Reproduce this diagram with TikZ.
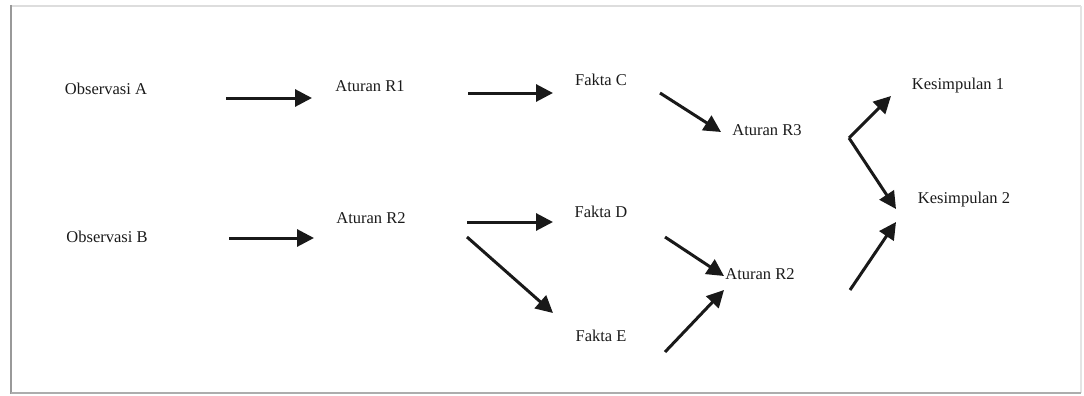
\documentclass[tikz,border=0pt]{standalone}
\usepackage{fontspec}
\setmainfont{Liberation Serif}
\usetikzlibrary{arrows.meta}
\definecolor{textgrey}{HTML}{1A1A1A}
\definecolor{frameside}{HTML}{999999}
\definecolor{frametop}{HTML}{DDDDDD}
\begin{document}
\begin{tikzpicture}[x=1pt,y=-1pt,
  lbl/.style={inner sep=0pt, text=textgrey, font=\fontsize{16.5}{20}\selectfont},
  arr/.style={line width=3pt, draw=black!90, -{Triangle[length=17pt,width=17pt]}}]
\useasboundingbox (0,0) rectangle (1084,396);
% frame
\draw[frametop, line width=2pt] (11,6) -- (1081,6);
\draw[frametop!80, line width=2pt] (1081,6) -- (1081,393);
\draw[frameside, line width=2.2pt] (11,5) -- (11,394);
\draw[frameside!80, line width=2pt] (11,393) -- (1081,393);
% labels
\node[lbl] (obsA) at (106,89)  {Observasi A};
\node[lbl] (r1)   at (370,86)  {Aturan R1};
\node[lbl] (fC)   at (601,80)  {Fakta C};
\node[lbl] (r3)   at (767,130) {Aturan R3};
\node[lbl] (k1)   at (958,86)  {Kesimpulan 1};
\node[lbl] (k2)   at (964,200) {Kesimpulan 2};
\node[lbl] (obsB) at (107,237) {Observasi B};
\node[lbl] (r2)   at (371,218) {Aturan R2};
\node[lbl] (fD)   at (601,212) {Fakta D};
\node[lbl] (r2b)  at (760,274) {Aturan R2};
\node[lbl] (fE)   at (601,336) {Fakta E};
% fork point after Aturan R3
\coordinate (fork) at ([shift={(82,8)}]r3.center);
% connectors
\draw[arr] ([shift={(120,9)}]obsA.center) -- ([shift={(-58,12)}]r1.center);
\draw[arr] ([shift={(98,7)}]r1.center) -- ([shift={(-48,13)}]fC.center);
\draw[arr] ([shift={(59,13)}]fC.center) -- ([shift={(-46,2)}]r3.center);
\draw[arr] (fork) -- ([shift={(-67,10)}]k1.center);
\draw[arr] (fork) -- ([shift={(-68,9)}]k2.center);
\draw[arr] ([shift={(90,16)}]r2b.center) -- ([shift={(-68,22)}]k2.center);
\draw[arr] ([shift={(122,1)}]obsB.center) -- ([shift={(-57,20)}]r2.center);
\draw[arr] ([shift={(96,4)}]r2.center) -- ([shift={(-48,10)}]fD.center);
\draw[arr] ([shift={(96,19)}]r2.center) -- ([shift={(-48,-23)}]fE.center);
\draw[arr] ([shift={(64,25)}]fD.center) -- ([shift={(-36,2)}]r2b.center);
\draw[arr] ([shift={(64,16)}]fE.center) -- ([shift={(-36,16)}]r2b.center);
\end{tikzpicture}
\end{document}
